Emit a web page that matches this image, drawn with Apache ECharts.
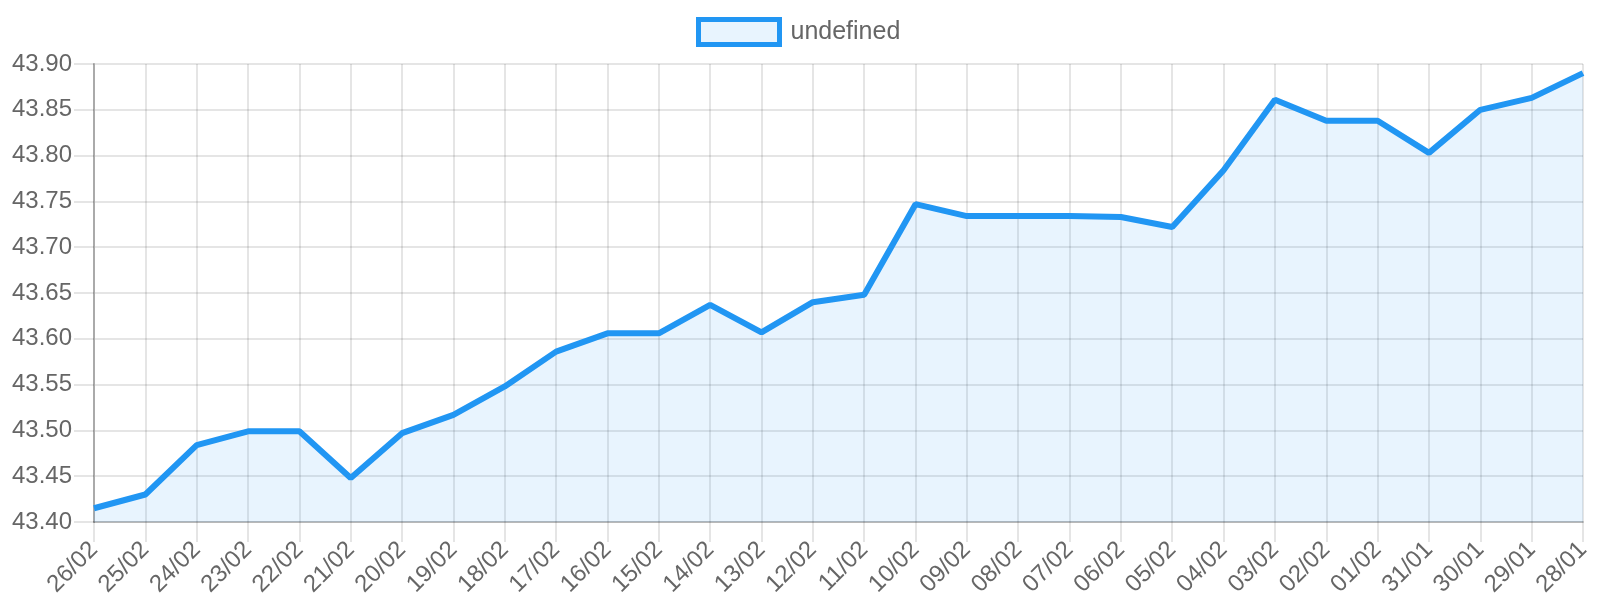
<!DOCTYPE html>
<html>
<head>
<meta charset="utf-8">
<script src="https://cdn.jsdelivr.net/npm/echarts@6/dist/echarts.min.js"></script>
<style>
html,body{margin:0;padding:0;background:#fff;}
#chart{width:1600px;height:600px;}
</style>
</head>
<body>
<div id="chart"></div>
<script>
const categories = ['26/02','25/02','24/02','23/02','22/02','21/02','20/02','19/02','18/02','17/02','16/02','15/02','14/02','13/02','12/02','11/02','10/02','09/02','08/02','07/02','06/02','05/02','04/02','03/02','02/02','01/02','31/01','30/01','29/01','28/01'];
const values = [43.415,43.430,43.484,43.499,43.499,43.448,43.497,43.517,43.548,43.586,43.606,43.606,43.637,43.607,43.640,43.648,43.747,43.734,43.734,43.734,43.733,43.722,43.784,43.861,43.838,43.838,43.803,43.850,43.863,43.890];
const seriesName = 'undefined';
const yMin = 43.40, yMax = 43.90, yStep = 0.05;

const font = 'Liberation Sans, Arial, Helvetica, sans-serif';
const chart = echarts.init(document.getElementById('chart'), null, {renderer:'canvas'});
chart.setOption({
  animation:false,
  legend:{
    data:[seriesName],
    left:691, top:12,
    icon:'rect',
    itemWidth:81, itemHeight:25,
    itemStyle:{color:'rgba(33,150,243,0.1)', borderColor:'#2196F3', borderWidth:5},
    textStyle:{fontSize:25, color:'#666', fontFamily:font, padding:[0,0,0,6]}
  },
  grid:{left:94, right:17, top:64, bottom:78, containLabel:false},
  xAxis:{
    type:'category', data:categories, boundaryGap:false,
    axisLine:{show:true, lineStyle:{color:'rgba(0,0,0,0.2)', width:2}},
    axisTick:{show:true, length:20, lineStyle:{color:'rgba(0,0,0,0.1)', width:2}},
    splitLine:{show:true, lineStyle:{color:'rgba(0,0,0,0.1)', width:2}},
    axisLabel:{rotate:45, fontSize:24, color:'#666', fontFamily:font, margin:24, interval:0}
  },
  yAxis:{
    type:'value', min:yMin, max:yMax, interval:yStep,
    axisLine:{show:true, lineStyle:{color:'#aaaaaa', width:2}},
    axisTick:{show:true, length:20, lineStyle:{color:'rgba(0,0,0,0.1)', width:2}},
    splitLine:{show:true, lineStyle:{color:'rgba(0,0,0,0.1)', width:2}},
    axisLabel:{fontSize:24, color:'#666', fontFamily:font, margin:22, formatter:v=>v.toFixed(2)}
  },
  series:[{
    name:seriesName, type:'line', data:values,
    symbol:'none', showSymbol:false,
    lineStyle:{color:'#2196F3', width:6},
    itemStyle:{color:'#2196F3'},
    areaStyle:{color:'rgba(33,150,243,0.1)', opacity:1}
  }]
});
</script>
</body>
</html>
